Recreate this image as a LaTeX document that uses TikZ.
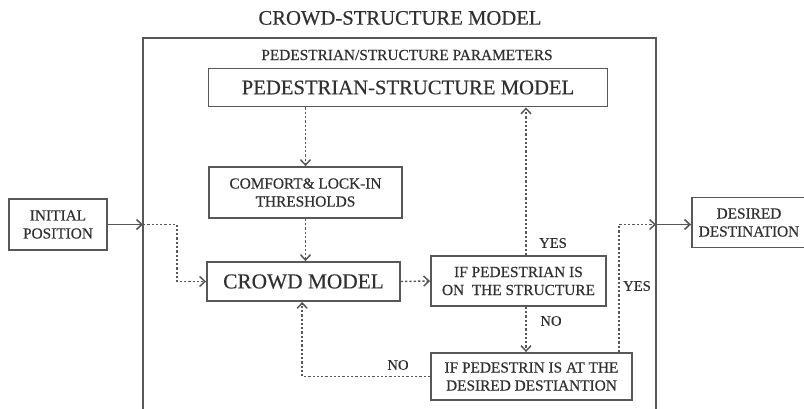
\documentclass[tikz,border=0pt]{standalone}
\usepackage{fontspec}
\setmainfont{Liberation Serif}[FakeBold=0.35]
\usetikzlibrary{arrows.meta}

\definecolor{ink}{HTML}{303030}
\definecolor{rule}{HTML}{585858}

\tikzset{
	box/.style={draw=rule, line width=1.4pt, inner sep=0pt, align=center, text=ink, font=\fontsize{11.5}{13.5}\selectfont},
	flow/.style={draw=rule, line width=1.1pt, dash pattern=on 1.7pt off 1.5pt, -{Straight Barb[length=4pt,width=7.5pt]}},
	feed/.style={draw=rule, line width=1.2pt, -{Straight Barb[length=4pt,width=7.5pt]}},
	tag/.style={text=ink, font=\fontsize{11}{13}\selectfont},
}

\begin{document}
\begin{tikzpicture}[x=0.75pt,y=-0.75pt]
		
		\useasboundingbox (0,0) rectangle (804,408);
		
		\draw[rule, line width=1.6pt] (143,410) -- (143,38) -- (656,38) -- (656,410);
		
		\node[text=ink, font=\fontsize{15.5}{18}\selectfont] (title) at (400,18) {CROWD-STRUCTURE MODEL};
		\node[text=ink, font=\fontsize{11.5}{13}\selectfont] (params) at (407,55) {PEDESTRIAN/STRUCTURE PARAMETERS};
		
		\node[box, minimum width=299.25pt, minimum height=28.5pt, font=\fontsize{15.5}{18}\selectfont] (psm) at (408,87.5) {PEDESTRIAN-STRUCTURE MODEL};
		\node[box, minimum width=144.75pt, minimum height=38.25pt] (comfort) at (305.5,192.5) {COMFORT\& LOCK-IN\\THRESHOLDS};
		\node[box, minimum width=73.5pt, minimum height=38.25pt] (init) at (58,224.5) {INITIAL\\POSITION};
		\node[box, minimum width=144.75pt, minimum height=29.25pt, font=\fontsize{16}{18}\selectfont] (crowd) at (303.5,281.5) {CROWD MODEL};
		\node[box, minimum width=131.25pt, minimum height=37.5pt] (onstr) at (518.5,281) {IF PEDESTRIAN IS\\ON\ \ THE STRUCTURE};
		\node[box, minimum width=150.75pt, minimum height=35.25pt] (atdest) at (531.5,376.5) {IF PEDESTRIN IS AT THE\\DESIRED DESTIANTION};
		\node[box, minimum width=85.5pt, minimum height=37.5pt] (dest) at (749,222.5) {DESIRED\\DESTINATION};
		
		\coordinate (inpt) at (143,224.5);
		\coordinate (outpt) at (656,224.5);
		\coordinate (tap) at (526,0);
		\coordinate (exit) at (619,0);
		
		\draw[feed] (init.east |- inpt) -- (inpt);
		\draw[flow] (inpt) -- ++(34,0) |- (crowd.west);
		\draw[flow] (psm.south -| comfort.north) -- (comfort.north);
		\draw[flow] (comfort.south) -- (comfort.south |- crowd.north);
		\draw[flow] (crowd.east) -- (onstr.west);
		\draw[flow] (onstr.north -| tap) -- (psm.south -| tap);
		\draw[flow] (onstr.south -| tap) -- (atdest.north -| tap);
		\draw[flow] (atdest.west) -| ([xshift=-1pt]crowd.south);
		\draw[flow] (atdest.north -| exit) |- (outpt);
		\draw[feed] (outpt) -- (outpt -| dest.west);
		
		\node[tag] (yesup) at (553,243) {YES};
		\node[tag] (nodown) at (551,321) {NO};
		\node[tag] (noback) at (398,365) {NO};
		\node[tag] (yesout) at (637,286) {YES};
		
	\end{tikzpicture}
\end{document}
